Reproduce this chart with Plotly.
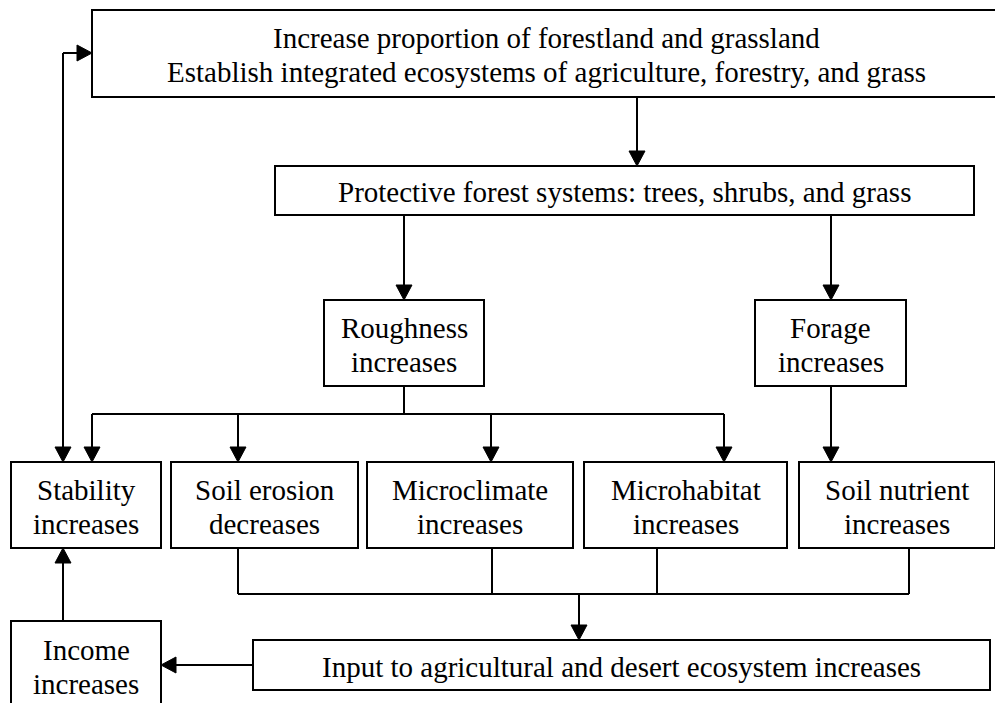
import plotly.graph_objects as go

# ---- content ----
top_text = ["Increase proportion of forestland and grassland",
            "Establish integrated ecosystems of agriculture, forestry, and grass"]
protective_text = ["Protective forest systems: trees, shrubs, and grass"]
roughness_text = ["Roughness", "increases"]
forage_text = ["Forage", "increases"]
bottom_row_text = [["Stability", "increases"], ["Soil erosion", "decreases"],
                   ["Microclimate", "increases"], ["Microhabitat", "increases"],
                   ["Soil nutrient", "increases"]]
input_text = ["Input to agricultural and desert ecosystem increases"]
income_text = ["Income", "increases"]

# ---- layout geometry (pixels, y downwards) ----
W, H = 1003, 703
OFF = 8  # page body margin
boxes = {
    "top": (92, 10, 1000, 97),
    "prot": (275, 166, 974, 215),
    "rough": (324, 300, 484, 386),
    "forage": (755, 300, 906, 386),
    "b0": (11, 462, 161, 548),
    "b1": (171, 462, 358, 548),
    "b2": (367, 462, 573, 548),
    "b3": (584, 462, 787, 548),
    "b4": (799, 462, 995, 548),
    "input": (253, 640, 990, 690),
    "income": (11, 621, 161, 720),
}
texts = {
    "top": top_text, "prot": protective_text, "rough": roughness_text,
    "forage": forage_text, "input": input_text, "income": income_text,
}
for i, t in enumerate(bottom_row_text):
    texts["b%d" % i] = t
text_y = {"top": 55, "prot": 192, "income": 667, "input": 667}

LW = 2
FONT = "Liberation Serif"
FS = 29
GAP = 34  # line spacing

fig = go.Figure()
shapes = []
annotations = []

for k, (x0, y0, x1, y1) in boxes.items():
    shapes.append(dict(type="rect", x0=x0, y0=y0, x1=x1, y1=y1,
                       line=dict(color="black", width=LW), fillcolor="white",
                       layer="below"))
    cy = text_y.get(k, (y0 + y1) / 2 + 1.5)
    lines = texts[k]
    n = len(lines)
    for j, t in enumerate(lines):
        yy = cy + (j - (n - 1) / 2) * GAP
        annotations.append(dict(x=(x0 + x1) / 2, y=yy, text=t,
                                showarrow=False, xanchor="center", yanchor="middle",
                                font=dict(family=FONT, size=FS, color="black")))

def line(x0, y0, x1, y1):
    shapes.append(dict(type="line", x0=x0, y0=y0, x1=x1, y1=y1,
                       line=dict(color="black", width=LW), layer="above"))

AH, AW = 15, 8  # arrowhead length, half-width

def head(x, y, d):
    if d == "down":
        p = f"M{x},{y} L{x-AW},{y-AH} L{x+AW},{y-AH} Z"
    elif d == "up":
        p = f"M{x},{y} L{x-AW},{y+AH} L{x+AW},{y+AH} Z"
    elif d == "right":
        p = f"M{x},{y} L{x-AH},{y-AW} L{x-AH},{y+AW} Z"
    else:
        p = f"M{x},{y} L{x+AH},{y-AW} L{x+AH},{y+AW} Z"
    shapes.append(dict(type="path", path=p, fillcolor="black",
                       line=dict(color="black", width=1), layer="above"))

def arrow(x0, y0, x1, y1, d):
    if d == "down":
        line(x0, y0, x1, y1 - AH + 1)
    elif d == "up":
        line(x0, y0, x1, y1 + AH - 1)
    elif d == "right":
        line(x0, y0, x1 - AH + 1, y1)
    else:
        line(x0, y0, x1 + AH - 1, y1)
    head(x1, y1, d)

# top -> protective
arrow(637, 97, 637, 166, "down")
# protective -> roughness / forage
arrow(404, 215, 404, 300, "down")
arrow(831, 215, 831, 300, "down")
# roughness -> bottom row
line(404, 386, 404, 414)
line(92, 414, 724, 414)
for x in (92, 238, 491, 724):
    arrow(x, 414, x, 462, "down")
# forage -> soil nutrient
arrow(831, 386, 831, 462, "down")
# feedback loop stability <-> top
line(63, 53, 63, 448)
head(63, 462, "down")
arrow(63, 53, 92, 53, "right")
# bottom row -> input
for x in (238, 492, 657, 909):
    line(x, 548, x, 594)
line(238, 594, 909, 594)
arrow(579, 594, 579, 640, "down")
# input -> income
arrow(253, 665, 161, 665, "left")
# income -> stability
arrow(63, 621, 63, 548, "up")

fig.update_layout(
    width=W, height=H, margin=dict(l=0, r=0, t=0, b=0),
    plot_bgcolor="white", paper_bgcolor="white",
    xaxis=dict(range=[OFF, W + OFF], visible=False, fixedrange=True),
    yaxis=dict(range=[H + OFF, OFF], visible=False, fixedrange=True),
    shapes=shapes, annotations=annotations, showlegend=False,
)
fig.write_html("out.html")
